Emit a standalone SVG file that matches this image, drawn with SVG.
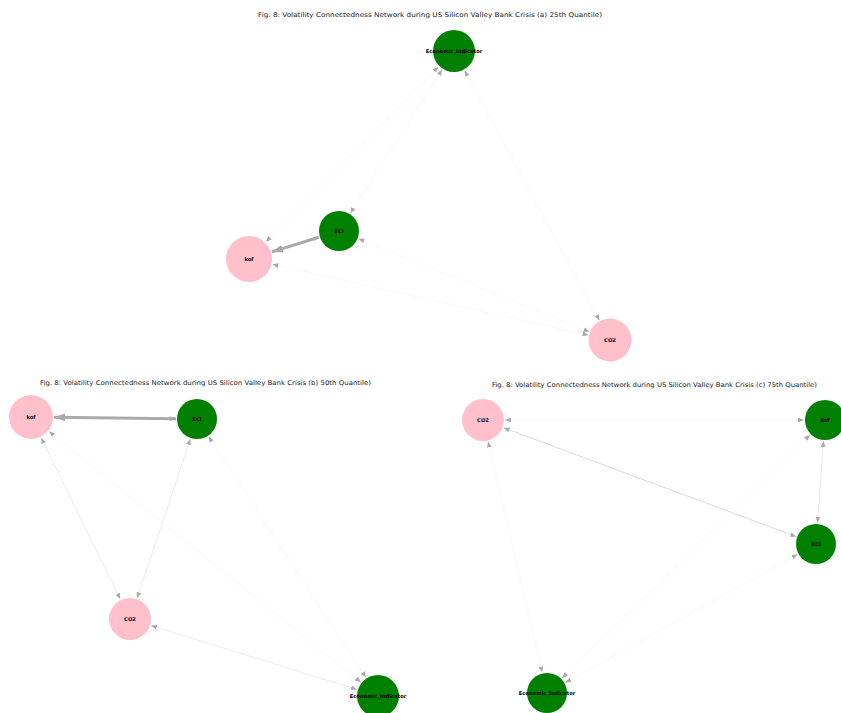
<svg xmlns="http://www.w3.org/2000/svg" width="841" height="713" viewBox="0 0 841 713">
<style>
.title{font-family:"DejaVu Sans","Liberation Sans",sans-serif;font-size:6.5px;fill:#1a1a1a;text-anchor:middle}
.lbl{font-family:"DejaVu Sans","Liberation Sans",sans-serif;font-size:5.2px;font-weight:bold;fill:#000;text-anchor:middle;dominant-baseline:central}
.g{fill:#008000}
.p{fill:#ffc0cb}
.e{fill:none;stroke:#e4e4e4;stroke-width:0.7;marker-start:url(#ah);marker-end:url(#ah)}
.e2{fill:none;stroke:#d0d0d0;stroke-width:0.8;marker-start:url(#ah);marker-end:url(#ah)}
.e3{fill:none;stroke:#f2f2f2;stroke-width:0.6;marker-start:url(#ah);marker-end:url(#ah)}
.thick{fill:none;stroke:#aaaaaa;stroke-width:3;marker-start:url(#ah);marker-end:url(#big)}
</style>
<defs>
<marker id="ah" markerUnits="userSpaceOnUse" markerWidth="6" markerHeight="5" refX="5" refY="2" orient="auto-start-reverse" viewBox="0 0 5 4"><path d="M0,0 L5,2 L0,4 z" fill="#a9a9a9"/></marker>
<marker id="big" markerUnits="userSpaceOnUse" markerWidth="11" markerHeight="8" refX="10" refY="3.5" orient="auto" viewBox="0 0 10 7"><path d="M0,0 L10,3.5 L0,7 z" fill="#aaaaaa"/></marker>
</defs>
<rect width="841" height="713" fill="#ffffff"/>
<text class="title" x="430" y="17" textLength="344" lengthAdjust="spacingAndGlyphs">Fig. 8: Volatility Connectedness Network during US Silicon Valley Bank Crisis (a) 25th Quantile)</text>
<text class="title" x="205.5" y="385" textLength="331" lengthAdjust="spacingAndGlyphs">Fig. 8: Volatility Connectedness Network during US Silicon Valley Bank Crisis (b) 50th Quantile)</text>
<text class="title" x="654.5" y="387" textLength="325" lengthAdjust="spacingAndGlyphs">Fig. 8: Volatility Connectedness Network during US Silicon Valley Bank Crisis (c) 75th Quantile)</text>
<g id="connectors">
<!-- panel a -->
<line class="thick" x1="318.95" y1="237.24" x2="271.9" y2="251.9"/>
<line class="e3" x1="438.56" y1="66.67" x2="265.85" y2="241.91"/>
<line class="e3" x1="442.16" y1="69.54" x2="350.31" y2="213.3"/>
<line class="e3" x1="464.45" y1="70.36" x2="599.55" y2="320.64"/>
<line class="e3" x1="589.59" y1="331.79" x2="358.48" y2="238.84"/>
<line class="e3" x1="588.53" y1="335.18" x2="272.42" y2="264.25"/>
<!-- panel b -->
<line class="thick" x1="176" y1="418.75" x2="54" y2="417.28"/>
<line class="e" x1="41.12" y1="437.65" x2="120.32" y2="599.25"/>
<line class="e" x1="190.33" y1="438.91" x2="136.99" y2="598.14"/>
<line class="e3" x1="48.92" y1="431.41" x2="360.86" y2="682.21"/>
<line class="e3" x1="208.49" y1="436.58" x2="365.97" y2="677.58"/>
<line class="e" x1="151.01" y1="625.52" x2="356.99" y2="689.48"/>
<!-- panel c -->
<line class="e3" x1="505" y1="420" x2="804" y2="420"/>
<line class="e2" x1="503.62" y1="427.68" x2="796.32" y2="536.67"/>
<line class="e3" x1="488.02" y1="441.42" x2="542.21" y2="672.55"/>
<line class="e" x1="823.48" y1="440.95" x2="817.52" y2="523.05"/>
<line class="e3" x1="810.02" y1="434.71" x2="561.98" y2="678.29"/>
<line class="e3" x1="797.63" y1="554.17" x2="565.37" y2="682.83"/>
</g>
<g id="a_Economic_Indicator"><circle class="g" cx="454" cy="51" r="21"/><text class="lbl" x="454" y="51">Economic_Indicator</text></g>
<g id="a_ECI"><circle class="g" cx="339" cy="231" r="20"/><text class="lbl" x="339" y="231">ECI</text></g>
<g id="a_kof"><circle class="p" cx="249" cy="259" r="23"/><text class="lbl" x="249" y="259">kof</text></g>
<g id="a_CO2"><circle class="p" cx="610" cy="340" r="21.5"/><text class="lbl" x="610" y="340">CO2</text></g>
<g id="b_kof"><circle class="p" cx="31" cy="417" r="22"/><text class="lbl" x="31" y="417">kof</text></g>
<g id="b_ECI"><circle class="g" cx="197" cy="419" r="20"/><text class="lbl" x="197" y="419">ECI</text></g>
<g id="b_CO2"><circle class="p" cx="130" cy="619" r="21"/><text class="lbl" x="130" y="619">CO2</text></g>
<g id="b_Economic_Indicator"><circle class="g" cx="378" cy="696" r="21"/><text class="lbl" x="378" y="696">Economic_Indicator</text></g>
<g id="c_CO2"><circle class="p" cx="483" cy="420" r="21"/><text class="lbl" x="483" y="420">CO2</text></g>
<g id="c_kof"><circle class="g" cx="825" cy="420" r="20"/><text class="lbl" x="825" y="420">kof</text></g>
<g id="c_ECI"><circle class="g" cx="816" cy="544" r="20"/><text class="lbl" x="816" y="544">ECI</text></g>
<g id="c_Economic_Indicator"><circle class="g" cx="547" cy="693" r="20"/><text class="lbl" x="547" y="693">Economic_Indicator</text></g>
</svg>
